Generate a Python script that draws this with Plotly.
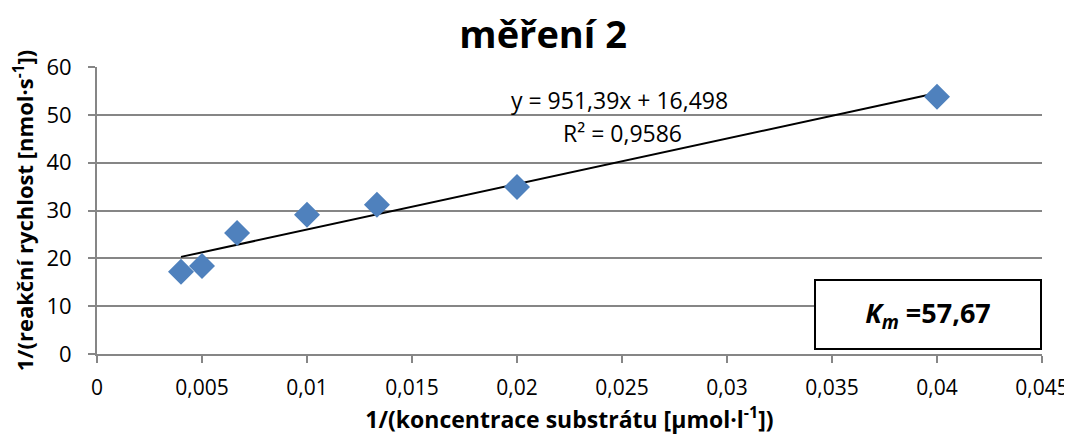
import plotly.graph_objects as go

x_vals = [0.004, 0.005, 0.00667, 0.01, 0.01333, 0.02, 0.04]
y_vals = [17.2, 18.4, 25.3, 29.1, 31.2, 34.9, 53.8]
slope = 951.39
intercept = 16.498
r2_text = "R² = 0,9586"
eq_text = "y = 951,39x + 16,498"
km_text = "<b><i>K<sub>m</sub></i> =57,67</b>"
x_ticks = [0, 0.005, 0.01, 0.015, 0.02, 0.025, 0.03, 0.035, 0.04, 0.045]
x_tick_labels = ["0", "0,005", "0,01", "0,015", "0,02", "0,025", "0,03", "0,035", "0,04", "0,045"]
y_ticks = [0, 10, 20, 30, 40, 50, 60]

font = "'Open Sans', sans-serif"
trend_x = [min(x_vals), max(x_vals)]
trend_y = [slope * v + intercept for v in trend_x]

fig = go.Figure()
fig.add_trace(go.Scatter(x=trend_x, y=trend_y, mode="lines",
                         line=dict(color="black", width=2), showlegend=False))
fig.add_trace(go.Scatter(x=x_vals, y=y_vals, mode="markers",
                         marker=dict(symbol="diamond", size=20, color="#4F81BD",
                                     line=dict(width=0)), showlegend=False))

fig.add_annotation(x=0.0249, y=53.1, text=eq_text, showarrow=False,
                   font=dict(size=23, color="black", family=font), xanchor="center", yanchor="middle")
fig.add_annotation(x=0.025, y=46.2, text=r2_text, showarrow=False,
                   font=dict(size=23, color="black", family=font), xanchor="center", yanchor="middle")

fig.add_annotation(xref="paper", yref="paper", x=0.7587, y=0.0139, xanchor="left", yanchor="bottom",
                   text=km_text, showarrow=False, font=dict(size=27, color="black", family=font),
                   width=224, height=67, bordercolor="black", borderwidth=2, bgcolor="white",
                   align="center", valign="middle", borderpad=0)

# page body has an 8px default margin; figure sized/placed to compensate (no vertical scrollbar)
fig.update_layout(
    width=1064, height=427,
    margin=dict(l=89, r=30, t=59, b=81, autoexpand=False),
    paper_bgcolor="white", plot_bgcolor="white",
    title=dict(text="<b>měření 2</b>", x=0.503, xanchor="center", y=0.937, yanchor="middle",
               font=dict(size=38, color="black", family=font)),
    font=dict(family=font, color="black"),
)
fig.update_xaxes(range=[0, 0.045], tickvals=x_ticks, ticktext=x_tick_labels,
                 showgrid=False, showline=True, linecolor="#868686", linewidth=2,
                 ticks="outside", tickcolor="#868686", ticklen=7, tickwidth=2,
                 ticklabelstandoff=7, automargin=False,
                 tickfont=dict(size=21, family=font), zeroline=False,
                 title=dict(text="<b>1/(koncentrace substrátu [µmol·l<sup>-1</sup>])</b>",
                            font=dict(size=23, family=font), standoff=17))
fig.update_yaxes(range=[0, 60], tickvals=y_ticks, showgrid=True, gridcolor="#868686", gridwidth=2,
                 showline=True, linecolor="#868686", linewidth=2,
                 ticks="outside", tickcolor="#868686", ticklen=7, tickwidth=2,
                 ticklabelstandoff=12, automargin=False,
                 tickfont=dict(size=22, family=font), zeroline=False,
                 title=dict(text="<b>1/(reakční rychlost [nmol·s<sup>-1</sup>])</b>",
                            font=dict(size=22, family=font), standoff=9))

fig.write_html("out.html")
